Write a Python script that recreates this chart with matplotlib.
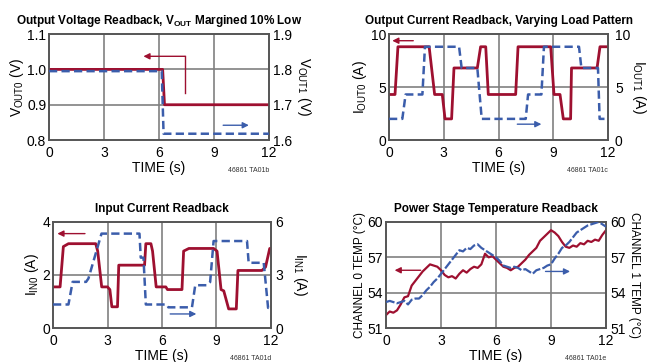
import numpy as np
import matplotlib
matplotlib.use("Agg")
import matplotlib.pyplot as plt
from matplotlib import font_manager

# fonts: narrow sans like the datasheet, fall back if missing
names = {f.name for f in font_manager.fontManager.ttflist}
NARROW = "Liberation Sans Narrow" if "Liberation Sans Narrow" in names else "Liberation Sans"
plt.rcParams["font.family"] = [NARROW, "DejaVu Sans"]
plt.rcParams["mathtext.fontset"] = "custom"
plt.rcParams["mathtext.rm"] = NARROW
plt.rcParams["mathtext.bf"] = NARROW + ":bold"

RED = "#9e1030"
BLUE = "#3b5dab"
GRID = "#808080"
FRAME = "#555555"

# ---- data ----
# output voltage readback
v_t0 = [0, 6.2, 6.3, 12]
v_out0 = [1.0, 1.0, 0.9, 0.9]
v_t1 = [0, 6.15, 6.25, 12]
v_out1 = [1.795, 1.795, 1.618, 1.618]

# output current readback
i_t0 = [0, 0.33, 0.49, 2.2, 2.5, 2.92, 3.07, 3.43, 3.56, 4.84, 5.02, 5.3, 5.44,
        6.94, 7.07, 8.86, 9.04, 9.37, 9.55, 9.95, 10.0, 11.4, 11.56, 12]
i_out0 = [4.3, 4.3, 8.8, 8.8, 4.3, 4.3, 2.0, 2.0, 6.8, 6.8, 8.8, 8.8, 4.3,
          4.3, 8.8, 8.8, 4.3, 4.3, 2.0, 2.0, 6.8, 6.8, 8.8, 8.8]
i_t1 = [0, 0.73, 0.91, 1.83, 1.97, 3.84, 3.98, 4.84, 5.08, 7.49, 7.62, 8.35, 8.49,
        10.41, 10.54, 11.45, 11.54, 12]
i_out1 = [2, 2, 4.3, 4.3, 8.8, 8.8, 6.8, 6.8, 2, 2, 4.3, 4.3, 8.8,
          8.8, 6.8, 6.8, 2, 2]

# input current readback
in_t0 = [0, 0.39, 0.57, 0.85, 2.35, 2.46, 2.68, 3.0, 3.13, 3.24, 3.55, 3.62, 5.04,
         5.11, 5.39, 5.48, 5.68, 6.21, 6.3, 7.1, 7.19, 7.48, 8.84, 9.03, 9.25, 9.4,
         9.67, 10.09, 10.18, 11.5, 11.7, 11.93, 12]
i_in0 = [1.55, 1.55, 3.07, 3.18, 3.18, 2.9, 1.55, 1.55, 1.45, 0.8, 0.8, 2.37, 2.37,
         3.18, 3.18, 2.9, 1.55, 1.55, 1.45, 1.45, 2.9, 3.0, 3.0, 2.9, 1.45, 1.4,
         0.72, 0.72, 2.17, 2.17, 2.3, 3.0, 3.0]
in_t1 = [0, 0.85, 1.08, 1.82, 1.95, 2.67, 4.76, 4.83, 4.98, 5.11, 6.27, 6.35, 7.65,
         7.83, 8.47, 8.65, 8.84, 10.68, 10.77, 11.6, 11.84, 12]
i_in1 = [1.33, 1.33, 2.61, 2.61, 2.8, 5.34, 5.34, 3.98, 3.98, 1.33, 1.33, 1.17, 1.17,
         2.42, 2.42, 2.6, 4.92, 4.92, 3.69, 3.69, 1.14, 1.14]

# power stage temperature, sampled every 0.2 s
temp_t = np.arange(61) * 0.2
temp0 = [52.1, 52.4, 52.3, 52.5, 53.0, 53.6, 53.7, 54.6, 55.0, 55.4,
         55.8, 56.1, 56.4, 56.3, 56.2, 55.9, 55.5, 55.3, 55.4, 55.2,
         55.6, 55.9, 55.7, 56.0, 56.2, 56.1, 56.4, 57.3, 57.0, 57.1,
         56.8, 56.5, 56.2, 56.1, 55.9, 56.1, 56.2, 56.5, 56.8, 57.2,
         57.5, 57.8, 58.4, 58.7, 59.0, 59.3, 59.1, 58.8, 58.3, 57.9,
         57.8, 58.0, 57.9, 58.2, 58.1, 58.4, 58.3, 58.5, 58.4, 58.9, 59.3]
temp1 = [53.2, 53.3, 53.2, 53.1, 53.2, 53.3, 53.0, 53.4, 53.5, 53.5,
         53.8, 54.2, 54.5, 54.9, 55.2, 55.6, 56.0, 56.4, 56.8, 57.2,
         57.6, 57.5, 57.8, 57.7, 58.0, 58.1, 57.8, 57.6, 57.4, 57.2,
         57.0, 56.7, 56.3, 56.2, 56.1, 56.2, 56.1, 55.9, 56.0, 55.8,
         55.6, 55.9, 56.0, 56.1, 56.3, 56.4, 56.9, 57.3, 57.8, 58.0,
         58.3, 58.7, 59.1, 59.3, 59.5, 59.7, 59.8, 59.9, 60.0, 59.8, 59.6]

time_ticks = [0, 3, 6, 9, 12]

fig = plt.figure(figsize=(6.48, 3.62), dpi=100)


def setup(ax, axr, ylim, yticks, rlim, rticks, grid_y, title, lab0, lab1, code,
          labsize=10, rpad=11, rtickpad=3):
    ax.set_xlim(0, 12)
    ax.set_ylim(*ylim)
    axr.set_ylim(*rlim)
    ax.set_xticks(time_ticks)
    ax.set_yticks(yticks)
    axr.set_yticks(rticks)
    for a in (ax, axr):
        a.tick_params(length=0, labelsize=10, pad=2)
        a.tick_params(axis="x", pad=4)
        for s in a.spines.values():
            s.set_color(FRAME)
            s.set_linewidth(1.2)
    axr.tick_params(axis="y", pad=rtickpad)
    for x in [3, 6, 9]:
        ax.axvline(x, color=GRID, lw=1.2, zorder=0)
    for y in grid_y:
        ax.axhline(y, color=GRID, lw=1.2, zorder=0)
    ax.set_title(title, fontsize=8.5, fontweight="bold", pad=7)
    ax.set_xlabel("TIME (s)", fontsize=10, labelpad=1)
    ax.set_ylabel(lab0, fontsize=labsize, labelpad=1)
    axr.set_ylabel(lab1, fontsize=labsize, rotation=270, labelpad=rpad)
    ax.text(1.0, -0.29, code, transform=ax.transAxes, fontsize=5,
            ha="right", va="center", color="#333333")


def arrow(ax, x0, x1, y, color):
    ax.annotate("", xy=(x1, y), xytext=(x0, y),
                arrowprops=dict(arrowstyle="-|>", color=color, lw=1.0,
                                mutation_scale=9, shrinkA=0, shrinkB=0))


# panel 1
ax1 = fig.add_axes([0.0756, 0.613, 0.3395, 0.293])
ax1r = ax1.twinx()
setup(ax1, ax1r, (0.8, 1.1), [0.8, 0.9, 1.0, 1.1], (1.6, 1.9), [1.6, 1.7, 1.8, 1.9],
      [0.9, 1.0], r"Output Voltage Readback, V$_{\mathbf{OUT}}$ Margined 10% Low",
      r"V$_{\mathrm{OUT0}}$ (V)", r"V$_{\mathrm{OUT1}}$ (V)", "46861 TA01b", rpad=15)
ax1.plot(v_t0, v_out0, color=RED, lw=2.0, zorder=3)
ax1r.plot(v_t1, v_out1, color=BLUE, lw=1.8, dashes=(3.3, 1.7), zorder=3)
ax1.plot([7.43, 7.43], [0.933, 1.037], color=RED, lw=1.0)
arrow(ax1, 7.43, 5.15, 1.037, RED)
arrow(ax1, 9.5, 10.9, 0.842, BLUE)

# panel 2
ax2 = fig.add_axes([0.6003, 0.613, 0.338, 0.293])
ax2r = ax2.twinx()
setup(ax2, ax2r, (0, 10), [0, 5, 10], (0, 10), [0, 5, 10], [5],
      "Output Current Readback, Varying Load Pattern",
      r"I$_{\mathrm{OUT0}}$ (A)", r"I$_{\mathrm{OUT1}}$ (A)", "46861 TA01c",
      rpad=13, rtickpad=5)
ax2.plot(i_t0, i_out0, color=RED, lw=2.0, zorder=3)
ax2r.plot(i_t1, i_out1, color=BLUE, lw=1.8, dashes=(3.3, 1.7), zorder=3)
arrow(ax2, 1.33, 0.18, 9.37, RED)
arrow(ax2, 7.03, 8.35, 1.5, BLUE)

# panel 3
ax3 = fig.add_axes([0.0818, 0.0939, 0.3364, 0.293])
ax3r = ax3.twinx()
setup(ax3, ax3r, (0, 4), [0, 2, 4], (0, 6), [0, 3, 6], [2],
      "Input Current Readback",
      r"I$_{\mathrm{IN0}}$ (A)", r"I$_{\mathrm{IN1}}$ (A)", "46861 TA01d", rpad=19)
ax3.plot(in_t0, i_in0, color=RED, lw=2.0, zorder=3)
ax3r.plot(in_t1, i_in1, color=BLUE, lw=1.8, dashes=(3.3, 1.7), zorder=3)
arrow(ax3, 1.76, 0.24, 3.56, RED)
arrow(ax3, 6.45, 7.89, 0.53, BLUE)

# panel 4
ax4 = fig.add_axes([0.5957, 0.0939, 0.3395, 0.293])
ax4r = ax4.twinx()
setup(ax4, ax4r, (51, 60), [51, 54, 57, 60], (51, 60), [51, 54, 57, 60], [54, 57],
      "Power Stage Temperature Readback",
      "CHANNEL 0 TEMP (°C)", "CHANNEL 1 TEMP (°C)", "46861 TA01e",
      labsize=8.5, rpad=10)
ax4.plot(temp_t, temp0, color=RED, lw=1.6, zorder=3)
ax4r.plot(temp_t, temp1, color=BLUE, lw=1.6, dashes=(4, 1), zorder=3)
arrow(ax4, 1.89, 0.47, 55.9, RED)
arrow(ax4, 8.7, 10.04, 55.8, BLUE)

fig.savefig("out.png", dpi=100)
